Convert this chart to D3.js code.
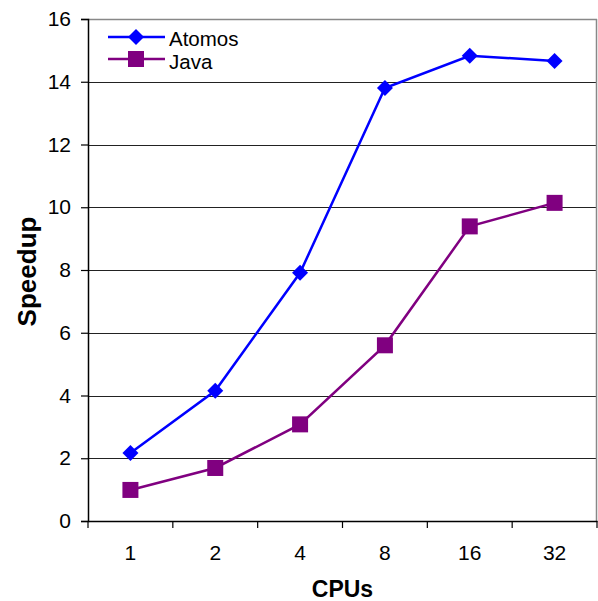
<!DOCTYPE html>
<html><head><meta charset="utf-8">
<script src="https://cdn.jsdelivr.net/npm/d3@7"></script>
<style>body{margin:0;background:#fff}svg{display:block}</style>
</head><body>
<script>
const categories = ["1","2","4","8","16","32"];
const atomos = [2.17, 4.15, 7.91, 13.8, 14.83, 14.66];
const java = [0.99, 1.69, 3.08, 5.6, 9.39, 10.14];
const yTicks = [0,2,4,6,8,10,12,14,16];
const seriesNames = ["Atomos","Java"];

const W=598,H=601;
const L=88,R=597,T=19,B=521;
const svg=d3.select("body").append("svg").attr("width",W).attr("height",H);
const font="Liberation Sans, Arial, sans-serif";

const x=d3.scaleBand().domain(categories).range([L,R]);
const y=d3.scaleLinear().domain([0,16]).range([B,T]);

// gridlines
svg.append("g").selectAll("line").data(yTicks.filter(d=>d>0&&d<16)).join("line")
  .attr("x1",L).attr("x2",R).attr("y1",d=>Math.round(y(d))+0.5).attr("y2",d=>Math.round(y(d))+0.5)
  .attr("stroke","#222").attr("stroke-width",1);
// plot border top/right gray
svg.append("line").attr("x1",L).attr("x2",R).attr("y1",Math.round(y(16))+0.5).attr("y2",Math.round(y(16))+0.5).attr("stroke","#888").attr("stroke-width",1.5);
svg.append("line").attr("x1",R-0.5).attr("x2",R-0.5).attr("y1",y(16)).attr("y2",B).attr("stroke","#888").attr("stroke-width",1.5);

// y axis
const yAxis=d3.axisLeft(y).tickValues(yTicks).tickSize(7).tickPadding(10);
const gy=svg.append("g").attr("transform",`translate(${L},0)`).call(yAxis);
gy.select(".domain").attr("stroke","#000").attr("stroke-width",1.5);
gy.selectAll(".tick line").attr("stroke","#000").attr("stroke-width",1.2);
gy.selectAll("text").attr("font-family",font).attr("font-size",21).attr("fill","#000");

// x axis
const xAxis=d3.axisBottom(x).tickSize(0).tickPadding(24);
const gx=svg.append("g").attr("transform",`translate(0,${B})`).call(xAxis);
gx.select(".domain").attr("stroke","#000").attr("stroke-width",1.5);
gx.selectAll("text").attr("font-family",font).attr("font-size",21).attr("fill","#000");
// boundary ticks
const bounds=categories.map(c=>x(c)).concat([R]);
svg.append("g").selectAll("line").data(bounds).join("line")
  .attr("x1",d=>d).attr("x2",d=>d).attr("y1",B).attr("y2",B+7)
  .attr("stroke","#000").attr("stroke-width",1.2);

// axis titles
svg.append("text").attr("x",(L+R)/2).attr("y",597).attr("text-anchor","middle")
  .attr("font-family",font).attr("font-weight","bold").attr("font-size",23).text("CPUs");
svg.append("text").attr("transform",`translate(36,${271.5}) rotate(-90)`).attr("text-anchor","middle")
  .attr("font-family",font).attr("font-weight","bold").attr("font-size",26).text("Speedup");

const cx=d=>x(d)+x.bandwidth()/2;
const line=d3.line().x((d,i)=>cx(categories[i])).y(d=>y(d));
const colors=["#0000ff","#800080"];
const data=[atomos,java];

data.forEach((s,k)=>{
  svg.append("path").datum(s).attr("d",line).attr("fill","none").attr("stroke",colors[k]).attr("stroke-width",2.5);
});
const diamond=(g,px,py,c)=>g.append("path").attr("d",`M${px},${py-8}L${px+8},${py}L${px},${py+8}L${px-8},${py}Z`).attr("fill",c);
const square=(g,px,py,c)=>g.append("rect").attr("x",px-8).attr("y",py-8).attr("width",16).attr("height",16).attr("fill",c);
const mk=svg.append("g");
atomos.forEach((v,i)=>diamond(mk,cx(categories[i]),y(v),colors[0]));
java.forEach((v,i)=>square(mk,cx(categories[i]),y(v),colors[1]));

// legend
const lg=svg.append("g");
const legendY=[37,59];
const legendBase=[45.5,68.5];
seriesNames.forEach((n,k)=>{
  const ly=legendY[k];
  lg.append("line").attr("x1",108).attr("x2",165).attr("y1",ly).attr("y2",ly).attr("stroke",colors[k]).attr("stroke-width",2.5);
  if(k===0) diamond(lg,136,ly,colors[k]); else square(lg,136,ly,colors[k]);
  lg.append("text").attr("x",169).attr("y",legendBase[k]).attr("font-family",font).attr("font-size",20.5).text(n);
});
</script>
</body></html>
